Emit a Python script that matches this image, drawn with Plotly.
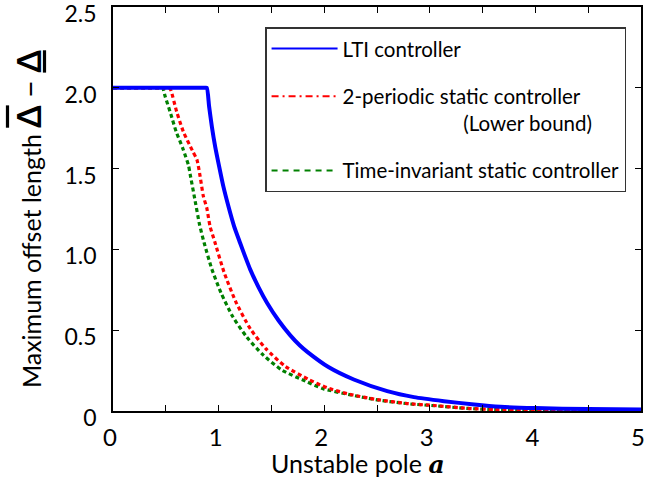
import plotly.graph_objects as go

# ---- data ----
a_lti = [0.0, 0.87, 0.888, 0.910, 0.936, 0.967, 1.005, 1.045, 1.093, 1.147, 1.204, 1.251,
         1.30, 1.379, 1.458, 1.568, 1.679, 1.77, 1.84, 2.04, 2.28, 2.597, 2.85, 3.134, 3.42,
         3.67, 4.0, 4.5, 5.0]
y_lti = [2.0, 2.0, 2.0, 1.885, 1.761, 1.638, 1.514, 1.390, 1.267, 1.143, 1.040, 0.957,
         0.875, 0.765, 0.67, 0.56, 0.468, 0.405, 0.366, 0.272, 0.195, 0.123, 0.086, 0.061, 0.040,
         0.026, 0.018, 0.012, 0.009]

a_per = [0.0, 0.51, 0.53, 0.547, 0.603, 0.666, 0.752, 0.795, 0.825, 0.856, 0.888, 0.919,
         0.967, 1.053, 1.164, 1.30, 1.445, 1.632, 1.853, 2.027, 2.25, 2.50, 2.79, 3.04, 3.35,
         3.61, 4.0, 4.5, 5.0]
y_per = [2.0, 2.0, 2.0, 1.986, 1.852, 1.729, 1.611, 1.555, 1.452, 1.328, 1.257, 1.143,
         1.040, 0.856, 0.674, 0.509, 0.387, 0.276, 0.195, 0.144, 0.102, 0.071, 0.046, 0.034, 0.017,
         0.009, 0.005, 0.003, 0.002]

a_ti = [0.0, 0.45, 0.47, 0.493, 0.547, 0.598, 0.661, 0.715, 0.731, 0.778, 0.819, 0.863, 0.935,
        1.025, 1.135, 1.267, 1.426, 1.60, 1.822, 1.995, 2.25, 2.50, 2.79, 3.04, 3.35, 3.61,
        4.0, 4.5, 5.0]
y_ti = [2.0, 2.0, 2.0, 1.949, 1.838, 1.729, 1.625, 1.520, 1.464, 1.299, 1.155, 1.041, 0.880,
        0.728, 0.583, 0.457, 0.344, 0.253, 0.185, 0.137, 0.100, 0.069, 0.045, 0.033, 0.016,
        0.009, 0.005, 0.003, 0.002]

names = ["LTI controller",
         "2-periodic static controller<br>" + "\u00a0" * 23 + "(Lower bound)",
         "Time-invariant static controller"]

x_tickvals = [0, 0.5, 1, 1.5, 2, 2.5, 3, 3.5, 4, 4.5, 5]
x_ticktext = ["0", "", "1", "", "2", "", "3", "", "4", "", "5"]
y_tickvals = [0, 0.5, 1.0, 1.5, 2.0, 2.5]
y_ticktext = ["0", "0.5", "1.0", "1.5", "2.0", "2.5"]

x_title = "Unstable pole <span style=\"font-family:'DejaVu Serif'\"><b><i>a</i></b></span>"
y_title = ("Maximum offset length "
           "<span style=\"font-size:32px;text-decoration:overline\"><b>\u0394</b></span>"
           "<span style=\"font-size:30px\"> \u2212 </span>"
           "<span style=\"font-size:32px;text-decoration:underline\"><b>\u0394</b></span>")

FONT = "Lato, 'Open Sans', sans-serif"

fig = go.Figure()

# plotted curves (drawn back to front)
fig.add_trace(go.Scatter(x=a_ti, y=y_ti, mode="lines", showlegend=False,
                         line=dict(color="#008000", width=3.2, dash="4px,3px",
                                   shape="spline", smoothing=0.6)))
fig.add_trace(go.Scatter(x=a_per, y=y_per, mode="lines", showlegend=False,
                         line=dict(color="#ff0000", width=3.2, dash="4px,3px",
                                   shape="spline", smoothing=0.6)))
fig.add_trace(go.Scatter(x=a_lti, y=y_lti, mode="lines", showlegend=False,
                         line=dict(color="#0000ff", width=4, shape="spline", smoothing=0.6)))

# legend entries
fig.add_trace(go.Scatter(x=[None], y=[None], mode="lines", name=names[0], legendgroup="g1",
                         line=dict(color="#0000ff", width=2)))
fig.add_trace(go.Scatter(x=[None], y=[None], mode="lines", name=names[1], legendgroup="g2",
                         line=dict(color="#ff0000", width=2, dash="7px,4px,2px,4px")))
fig.add_trace(go.Scatter(x=[None], y=[None], mode="lines", name=names[2], legendgroup="g3",
                         line=dict(color="#008000", width=2, dash="6px,5px")))

fig.update_layout(
    width=645, height=495,
    margin=dict(l=113, r=4, t=7, b=84, autoexpand=False),
    plot_bgcolor="white", paper_bgcolor="white",
    font=dict(family=FONT, size=24, color="black"),
    legend=dict(x=0.288, y=0.95, xanchor="left", yanchor="top", valign="top",
                bgcolor="white", bordercolor="#333", borderwidth=1.5,
                font=dict(size=20.5, family=FONT), tracegroupgap=18,
                itemwidth=66),
    xaxis=dict(range=[0, 5], tickvals=x_tickvals, ticktext=x_ticktext,
               ticks="inside", ticklen=6, tickcolor="black", tickwidth=1,
               showline=True, linecolor="black", linewidth=2, mirror="ticks",
               showgrid=False, zeroline=False, ticklabeloverflow="allow",
               automargin=False, ticklabelshift=-3, ticklabelstandoff=4,
               tickfont=dict(size=24)),
    yaxis=dict(range=[0, 2.5], tickvals=y_tickvals, ticktext=y_ticktext,
               ticks="inside", ticklen=6, tickcolor="black", tickwidth=1,
               showline=True, linecolor="black", linewidth=1.5, mirror="ticks",
               showgrid=False, zeroline=False, ticklabeloverflow="allow",
               automargin=False, ticklabelshift=7, ticklabelstandoff=10,
               tickfont=dict(size=23)),
    annotations=[
        dict(text=x_title, xref="paper", yref="paper",
             x=0.464, y=-0.13, xanchor="center", yanchor="middle",
             showarrow=False, font=dict(size=25, family=FONT)),
        dict(text=y_title, xref="paper", yref="paper", textangle=-90,
             x=-0.161, y=0.475, xanchor="center", yanchor="middle",
             showarrow=False, font=dict(size=25, family=FONT)),
    ],
)

fig.write_html("out.html", config={"displayModeBar": False},
               post_script="document.body.style.margin='0';")
